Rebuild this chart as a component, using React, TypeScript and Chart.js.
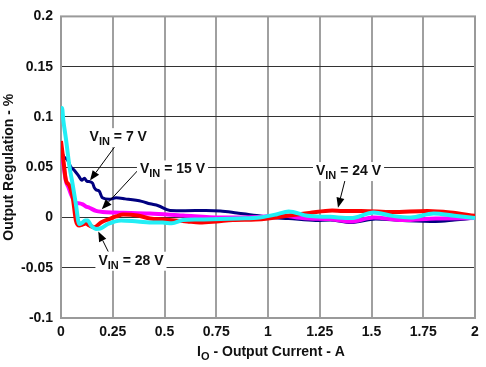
import React, { useEffect, useRef } from "react";
import { Chart, registerables } from "chart.js";

Chart.register(...registerables);

// ---- axis ticks ----
const xTicks = [0, 0.25, 0.5, 0.75, 1, 1.25, 1.5, 1.75, 2];
const xTickLabels = ["0", "0.25", "0.5", "0.75", "1", "1.25", "1.5", "1.75", "2"];
const yTicks = [-0.1, -0.05, 0, 0.05, 0.1, 0.15, 0.2];
const yTickLabels = ["-0.1", "-0.05", "0", "0.05", "0.1", "0.15", "0.2"];

// ---- series: VIN = 7 V (navy) ----
const vin7X = [0, 0.008, 0.032, 0.048, 0.064, 0.088, 0.1, 0.113, 0.125, 0.137, 0.153, 0.16, 0.169, 0.185, 0.2, 0.233, 0.266, 0.31, 0.39, 0.43, 0.47, 0.527, 0.6, 0.7, 0.77, 0.85, 0.945, 1.01, 1.1, 1.23, 1.3, 1.4, 1.52, 1.65, 1.81, 1.9, 2.0];
const vin7Y = [0.072, 0.063, 0.057, 0.05, 0.047, 0.0405, 0.037, 0.039, 0.036, 0.0357, 0.034, 0.03, 0.0276, 0.026, 0.0195, 0.018, 0.0195, 0.0185, 0.016, 0.0136, 0.0117, 0.007, 0.0068, 0.007, 0.0065, 0.0045, 0.002, 0, -0.001, -0.003, -0.0026, -0.005, -0.0016, -0.003, -0.004, -0.0026, -0.0006];

// ---- series: VIN = 15 V (magenta) ----
const vin15X = [0, 0.01, 0.024, 0.036, 0.048, 0.06, 0.072, 0.09, 0.105, 0.12, 0.137, 0.169, 0.2, 0.256, 0.3, 0.43, 0.59, 0.77, 0.95, 1.07, 1.155, 1.2, 1.3, 1.4, 1.51, 1.65, 1.81, 2.0];
const vin15Y = [0.07, 0.055, 0.036, 0.03, 0.023, 0.018, 0.0146, 0.014, 0.013, 0.011, 0.0097, 0.0065, 0.0055, 0.0049, 0.0047, 0.004, 0.002, 0, 0.0005, 0.002, -0.0003, -0.001, -0.0016, -0.004, 0, -0.0026, -0.001, -0.0006];

// ---- series: VIN = 24 V (red) ----
const vin24X = [0, 0.011, 0.024, 0.04, 0.057, 0.072, 0.088, 0.104, 0.12, 0.137, 0.161, 0.193, 0.233, 0.266, 0.3, 0.37, 0.43, 0.5, 0.61, 0.67, 0.75, 0.83, 0.94, 1.0, 1.07, 1.2, 1.31, 1.36, 1.45, 1.6, 1.77, 1.88, 2.0];
const vin24Y = [0.076, 0.058, 0.037, 0.032, 0.0195, -0.003, -0.008, -0.007, -0.006, -0.008, -0.0097, -0.005, -0.0016, 0.001, 0.003, 0.002, -0.001, -0.002, -0.004, -0.005, -0.004, -0.0025, -0.002, -0.001, 0.001, 0.0045, 0.007, 0.0065, 0.0065, 0.0055, 0.0065, 0.005, 0.0016];

// ---- series: VIN = 28 V (cyan) ----
const vin28X = [0, 0.005, 0.011, 0.024, 0.04, 0.057, 0.072, 0.088, 0.104, 0.116, 0.129, 0.145, 0.169, 0.19, 0.227, 0.29, 0.37, 0.45, 0.49, 0.535, 0.59, 0.66, 0.77, 0.86, 0.96, 1.04, 1.1, 1.19, 1.3, 1.4, 1.51, 1.6, 1.69, 1.8, 1.9, 2.0];
const vin28Y = [0.106, 0.109, 0.097, 0.078, 0.052, 0.032, 0.013, -0.0065, -0.005, -0.003, -0.003, -0.008, -0.0114, -0.011, -0.0065, -0.003, -0.004, -0.005, -0.005, -0.0058, -0.0025, -0.002, -0.0016, -0.001, 0, 0.003, 0.006, 0.0016, 0.0006, -0.0006, 0.005, 0.0016, 0, 0.004, 0.0016, -0.0006];

// ---- annotation labels (data coordinates) ----
const labelTexts = [" = 7 V", " = 15 V", " = 28 V", " = 24 V"];
const labelX = [0.2766, 0.5386, 0.338, 1.389];
const labelY = [0.0759, 0.0438, -0.047, 0.0422];
const arrowFromX = [0.269, 0.372, 0.2285, 1.372];
const arrowFromY = [0.073, 0.047, -0.0341, 0.037];
const arrowToX = [0.14, 0.197, 0.18, 1.338];
const arrowToY = [0.0367, 0.0081, -0.0139, 0.0097];

const FONT = "'Liberation Sans', Arial, Helvetica, sans-serif";
const TEXT_COLOR = "#111111";

const zip = (xs: number[], ys: number[]) => xs.map((x, i) => ({ x, y: ys[i] }));

function drawSubText(
  ctx: CanvasRenderingContext2D,
  cx: number,
  baseline: number,
  main: string,
  sub: string,
  rest: string,
  bg: boolean
) {
  ctx.font = `bold 14px ${FONT}`;
  const wMain = ctx.measureText(main).width;
  const wRest = ctx.measureText(rest).width;
  ctx.font = `bold 11px ${FONT}`;
  const wSub = ctx.measureText(sub).width;
  const total = wMain + wSub + wRest;
  let x = cx - total / 2;
  if (bg) {
    ctx.fillStyle = "#ffffff";
    ctx.fillRect(x - 3, baseline - 13, total + 6, 19);
  }
  ctx.fillStyle = TEXT_COLOR;
  ctx.textBaseline = "alphabetic";
  ctx.textAlign = "left";
  ctx.font = `bold 14px ${FONT}`;
  ctx.fillText(main, x, baseline);
  x += wMain;
  ctx.font = `bold 11px ${FONT}`;
  ctx.fillText(sub, x, baseline + 4);
  x += wSub;
  ctx.font = `bold 14px ${FONT}`;
  ctx.fillText(rest, x, baseline);
}

function drawArrow(ctx: CanvasRenderingContext2D, x0: number, y0: number, x1: number, y1: number) {
  const ang = Math.atan2(y1 - y0, x1 - x0);
  const len = 10;
  const hw = 4;
  const bx = x1 - len * Math.cos(ang);
  const by = y1 - len * Math.sin(ang);
  ctx.strokeStyle = "#000000";
  ctx.lineWidth = 1;
  ctx.beginPath();
  ctx.moveTo(x0, y0);
  ctx.lineTo(bx, by);
  ctx.stroke();
  ctx.fillStyle = "#000000";
  ctx.beginPath();
  ctx.moveTo(x1, y1);
  ctx.lineTo(bx + hw * Math.sin(ang), by - hw * Math.cos(ang));
  ctx.lineTo(bx - hw * Math.sin(ang), by + hw * Math.cos(ang));
  ctx.closePath();
  ctx.fill();
}

const overlayPlugin = {
  id: "overlay",
  beforeDatasetsDraw(chart: any) {
    const ctx: CanvasRenderingContext2D = chart.ctx;
    const a = chart.chartArea;
    ctx.save();
    ctx.strokeStyle = "#9a9a9a";
    ctx.lineWidth = 2;
    ctx.strokeRect(a.left, a.top, a.right - a.left, a.bottom - a.top);
    ctx.restore();
  },
  afterDatasetsDraw(chart: any) {
    const ctx: CanvasRenderingContext2D = chart.ctx;
    const xs = chart.scales.x;
    const ys = chart.scales.y;
    const area = chart.chartArea;
    ctx.save();
    for (let i = 0; i < labelTexts.length; i++) {
      drawArrow(
        ctx,
        xs.getPixelForValue(arrowFromX[i]),
        ys.getPixelForValue(arrowFromY[i]),
        xs.getPixelForValue(arrowToX[i]),
        ys.getPixelForValue(arrowToY[i])
      );
    }
    for (let i = 0; i < labelTexts.length; i++) {
      drawSubText(ctx, xs.getPixelForValue(labelX[i]), ys.getPixelForValue(labelY[i]), "V", "IN", labelTexts[i], true);
    }
    drawSubText(ctx, (area.left + area.right) / 2 + 3, 356, "I", "O", " - Output Current - A", false);
    ctx.translate(13, (area.top + area.bottom) / 2);
    ctx.rotate(-Math.PI / 2);
    ctx.font = `bold 14px ${FONT}`;
    ctx.fillStyle = TEXT_COLOR;
    ctx.textAlign = "center";
    ctx.textBaseline = "alphabetic";
    ctx.fillText("Output Regulation - %", 0, 0);
    ctx.restore();
  },
};

export default function App() {
  const ref = useRef<HTMLCanvasElement | null>(null);
  useEffect(() => {
    if (!ref.current) return;
    const mk = (label: string, xs: number[], ys: number[], color: string, width: number) => ({
      label,
      data: zip(xs, ys),
      borderColor: color,
      backgroundColor: color,
      borderWidth: width,
      pointRadius: 0,
      fill: false,
      cubicInterpolationMode: "monotone" as const,
    });
    const chart = new Chart(ref.current, {
      type: "line",
      data: {
        datasets: [
          mk("VIN = 28 V", vin28X, vin28Y, "#22eef5", 4),
          mk("VIN = 24 V", vin24X, vin24Y, "#ff0000", 4),
          mk("VIN = 15 V", vin15X, vin15Y, "#ff00ff", 4),
          mk("VIN = 7 V", vin7X, vin7Y, "#000080", 3),
        ],
      },
      options: {
        animation: false,
        responsive: true,
        maintainAspectRatio: false,
        layout: { padding: { left: 0, right: 11, top: 7, bottom: 0 } },
        plugins: {
          legend: { display: false },
          tooltip: { enabled: false },
          title: { display: false },
        },
        scales: {
          x: {
            type: "linear",
            min: 0,
            max: 2,
            afterBuildTicks: (s: any) => {
              s.ticks = xTicks.map((v) => ({ value: v }));
            },
            afterFit: (s: any) => {
              s.height = 49;
            },
            ticks: {
              autoSkip: false,
              maxRotation: 0,
              padding: 6,
              color: TEXT_COLOR,
              font: { family: FONT, size: 14, weight: "bold" },
              callback: (_v: any, i: number) => xTickLabels[i],
            },
            grid: { color: "#a0a0a0", lineWidth: 2, drawTicks: false },
            border: { display: false },
          },
          y: {
            type: "linear",
            min: -0.1,
            max: 0.2,
            afterBuildTicks: (s: any) => {
              s.ticks = yTicks.map((v) => ({ value: v }));
            },
            afterFit: (s: any) => {
              s.width = 61;
            },
            ticks: {
              autoSkip: false,
              padding: 8,
              color: TEXT_COLOR,
              font: { family: FONT, size: 14, weight: "bold" },
              callback: (_v: any, i: number) => yTickLabels[i],
            },
            grid: { color: "#333333", lineWidth: 1, drawTicks: false },
            border: { display: false },
          },
        },
      },
      plugins: [overlayPlugin],
    });
    return () => chart.destroy();
  }, []);
  return (
    <div style={{ position: "absolute", left: 0, top: 0, width: 486, height: 367, background: "#ffffff" }}>
      <canvas ref={ref} />
    </div>
  );
}
